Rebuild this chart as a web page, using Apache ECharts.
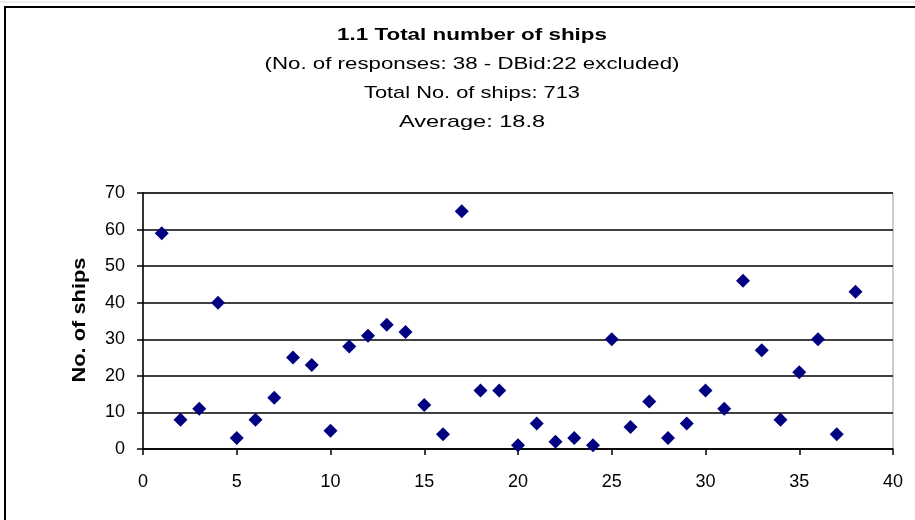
<!DOCTYPE html>
<html>
<head>
<meta charset="utf-8">
<script src="https://cdn.jsdelivr.net/npm/echarts@6/dist/echarts.min.js"></script>
<style>
html,body{margin:0;padding:0;background:#fff;}
#chart{width:915px;height:520px;}
</style>
</head>
<body>
<div id="chart"></div>
<script>
const titleLines = [
  "1.1 Total number of ships",
  "(No. of responses: 38 - DBid:22 excluded)",
  "Total No. of ships: 713",
  "Average: 18.8"
];
const respondentIds = [1,2,3,4,5,6,7,8,9,10,11,12,13,14,15,16,17,18,19,20,21,22,23,24,25,26,27,28,29,30,31,32,33,34,35,36,37,38];
const shipCounts = [59,8,11,40,3,8,14,25,23,5,28,31,34,32,12,4,65,16,16,1,7,2,3,1,30,6,13,3,7,16,11,46,27,8,21,30,4,43];
const yAxisName = "No. of ships";

const font = "'Liberation Sans', Arial, sans-serif";
const titleFonts = ['bold 17px ' + font, '17px ' + font, '17px ' + font, '17px ' + font];
const titleTargetWidths = [270, 415, 216, 146];
const titleCentersY = [35, 64, 93, 122];
const yNameFont = 'bold 18px ' + font;
const yNameTargetLen = 125;

const ctx = document.createElement('canvas').getContext('2d');
function measure(text, f) { ctx.font = f; return ctx.measureText(text).width; }

const titleGraphics = titleLines.map((t, i) => ({
  type: 'text', x: 472, y: titleCentersY[i],
  scaleX: titleTargetWidths[i] / measure(t, titleFonts[i]),
  style: { text: t, font: titleFonts[i], fill: '#000', textAlign: 'center', textVerticalAlign: 'middle' }
}));

const points = respondentIds.map((id, i) => [id, shipCounts[i]]);
const chart = echarts.init(document.getElementById('chart'));
chart.setOption({
  animation: false,
  backgroundColor: '#fff',
  graphic: [
    { type: 'rect', shape: { x: 5, y: 7, width: 960, height: 560 }, style: { fill: 'none', stroke: '#000', lineWidth: 2 }, z: -1 },
    { type: 'line', shape: { x1: 0, y1: 2, x2: 915, y2: 2 }, style: { stroke: '#ddd', lineWidth: 1 } },
    ...titleGraphics,
    { type: 'text', x: 80, y: 320, rotation: Math.PI / 2,
      scaleX: yNameTargetLen / measure(yAxisName, yNameFont),
      style: { text: yAxisName, font: yNameFont, fill: '#000', textAlign: 'center', textVerticalAlign: 'middle' } }
  ],
  grid: { left: 143, top: 193, right: 22, bottom: 71, show: true, borderColor: '#999', borderWidth: 1 },
  xAxis: {
    type: 'value', min: 0, max: 40, interval: 5,
    axisLine: { show: true, lineStyle: { color: '#000', width: 1.5 } },
    axisTick: { show: true, length: 6, lineStyle: { color: '#000', width: 1.5 } },
    axisLabel: { color: '#000', fontSize: 18, fontFamily: font, margin: 24 },
    splitLine: { show: false }
  },
  yAxis: {
    type: 'value', min: 0, max: 70, interval: 10,
    axisLine: { show: true, lineStyle: { color: '#000', width: 1.5 } },
    axisTick: { show: true, length: 6, lineStyle: { color: '#000', width: 1.5 } },
    axisLabel: { color: '#000', fontSize: 18, fontFamily: font, margin: 18 },
    splitLine: { show: true, lineStyle: { color: '#000', width: 1.5 } }
  },
  series: [{
    type: 'scatter',
    data: points,
    symbol: 'diamond',
    symbolSize: 14,
    itemStyle: { color: '#000080', opacity: 1 }
  }]
});
</script>
</body>
</html>
